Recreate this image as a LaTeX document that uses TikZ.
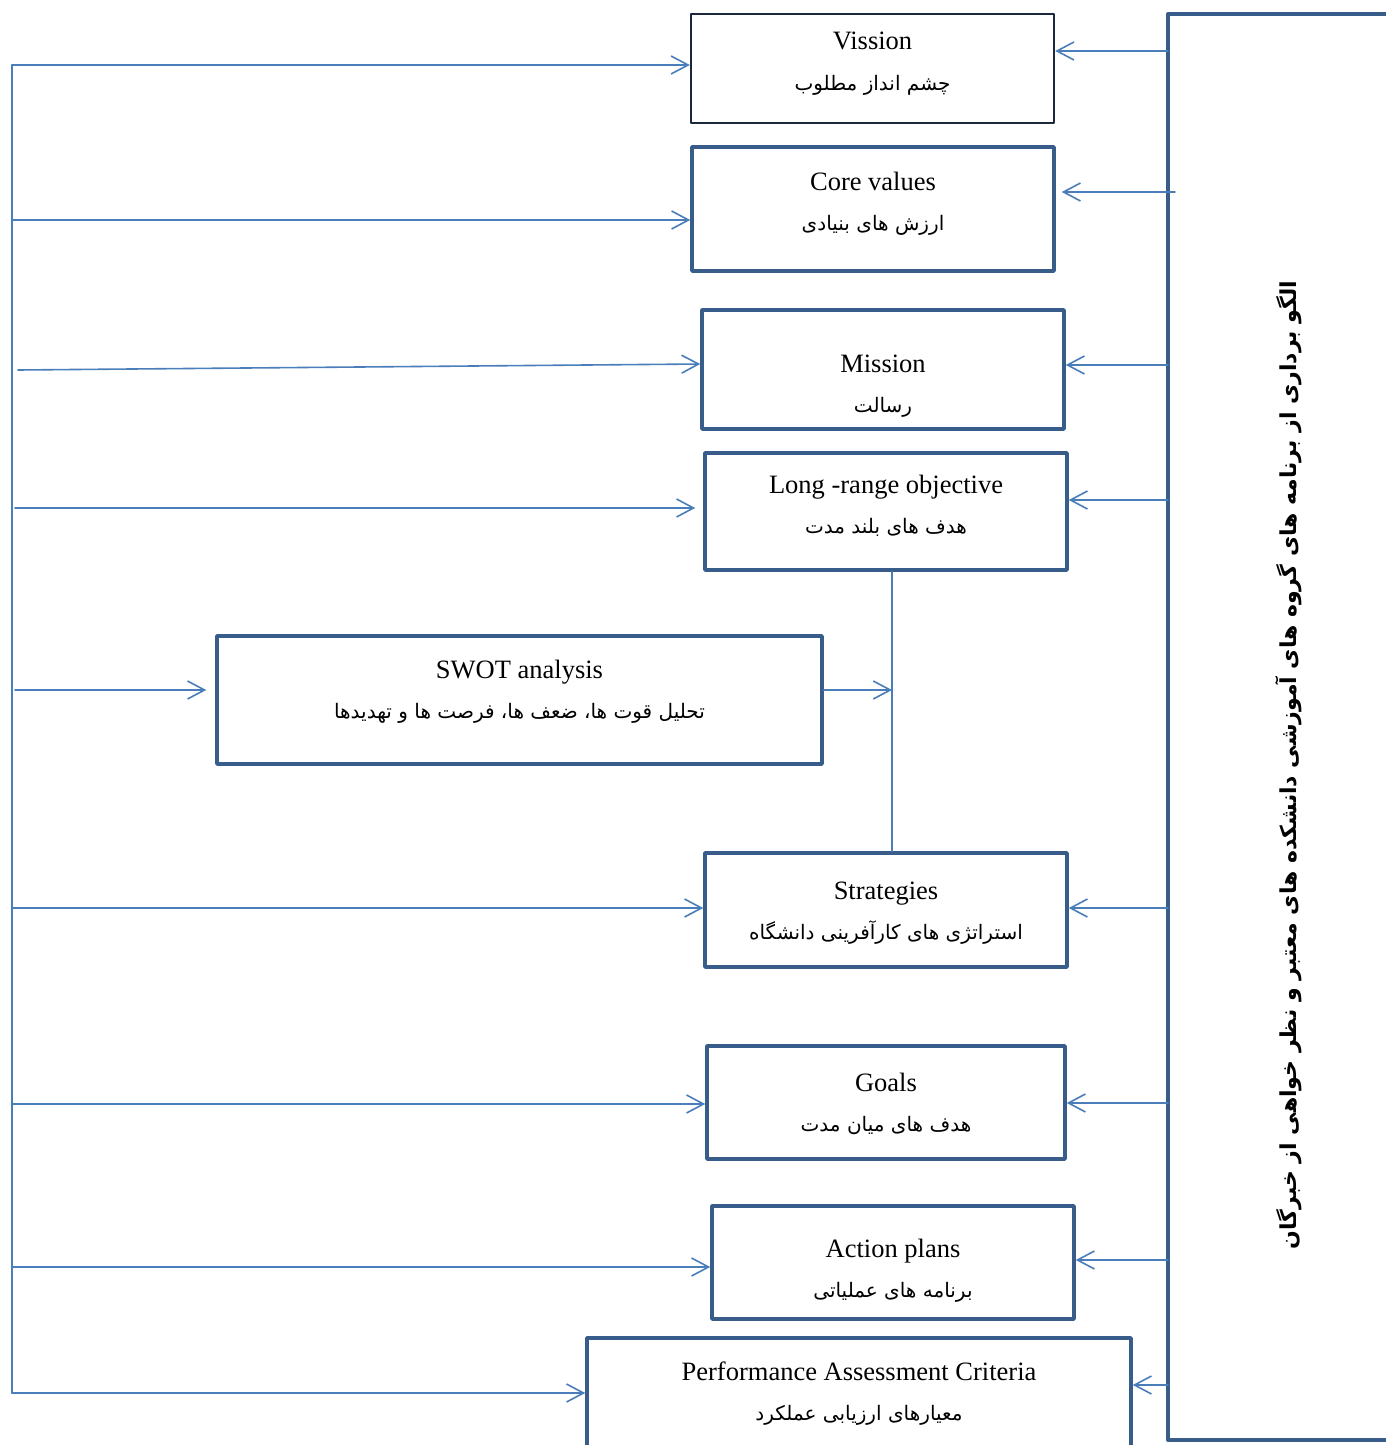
\documentclass[tikz,border=0pt]{standalone}
\usepackage{fontspec}
\setmainfont{Liberation Serif}
\newfontfamily\farsi[Script=Arabic]{DejaVu Sans}
\TeXXeTstate=1
\usetikzlibrary{arrows.meta}
\definecolor{linkblue}{RGB}{74,126,187}
\definecolor{boxblue}{RGB}{56,93,138}
\definecolor{navyline}{RGB}{30,40,60}
\newcommand{\fa}[1]{{\farsi\fontsize{20}{40}\selectfont #1}}
% two text lines; #1/#2 = strut height above / depth below (pt) to place them in the box
\newcommand{\stagelines}[4]{\rule{0pt}{#1pt}#3\\\rule[-#2pt]{0pt}{#2pt}\fa{#4}}
\tikzset{
  stage/.style={draw=boxblue, line width=3.5pt, fill=white, align=center, inner sep=0pt,
    font=\fontsize{26.5}{40}\selectfont},
  wire/.style={draw=linkblue, line width=1.6pt},
  link/.style={wire, -{Straight Barb[length=17pt,width=18pt,line width=1.6pt]}},
}
\begin{document}
\begin{tikzpicture}[x=1pt,y=-1pt, line cap=round, line join=round]
	\useasboundingbox (0,0) rectangle (1386,1445);
	\clip (0,0) rectangle (1386,1445);
	% stages
	\node[stage, draw=navyline, line width=2.5pt, minimum width=363pt, minimum height=109pt] (vission) at (872.5,68.5)
		{\stagelines{23}{20}{Vission}{\beginR چشم انداز مطلوب\endR}};
	\node[stage, minimum width=362pt, minimum height=124pt] (core) at (873,209)
		{\stagelines{22}{20}{Core values}{\beginR ارزش های بنیادی\endR}};
	\node[stage, minimum width=362pt, minimum height=119pt] (mission) at (883,369.5)
		{\stagelines{55}{10}{Mission}{\beginR رسالت\endR}};
	\node[stage, minimum width=362pt, minimum height=117pt] (longrange) at (886,511.5)
		{\stagelines{23}{20}{Long -range objective}{\beginR هدف های بلند مدت\endR}};
	\node[stage, minimum width=605pt, minimum height=128pt] (swot) at (519.5,700)
		{\stagelines{22}{26}{SWOT analysis}{\beginR تحلیل قوت ها، ضعف ها، فرصت ها و تهدیدها\endR}};
	\node[stage, minimum width=362pt, minimum height=114pt] (strategies) at (886,910)
		{\stagelines{38}{20}{Strategies}{\beginR استراتژی های کارآفرینی دانشگاه\endR}};
	\node[stage, minimum width=358pt, minimum height=113pt] (goals) at (886,1102.5)
		{\stagelines{37}{20}{Goals}{\beginR هدف های میان مدت\endR}};
	\node[stage, minimum width=362pt, minimum height=113pt] (actions) at (893,1262.5)
		{\stagelines{49}{20}{Action plans}{\beginR برنامه های عملیاتی\endR}};
	\node[stage, minimum width=544pt, minimum height=114pt] (pac) at (859,1395)
		{\stagelines{30}{20}{Performance Assessment Criteria}{\beginR معیارهای ارزیابی عملکرد\endR}};
	% benchmarking source
	\node[draw=boxblue, line width=4pt, minimum width=234pt, minimum height=1426pt] (expert) at (1285,727) {};
	\node[rotate=90, font=\farsi\bfseries\fontsize{22}{28}\selectfont] (experttext) at (1289,765)
		{\beginR الگو برداری از برنامه های گروه های آموزشی دانشکده های معتبر  و نظر خواهی از خبرگان\endR};
	% left feedback line
	\coordinate (ltop) at (12,65);
	\coordinate (lbot) at (12,1393);
	\draw[wire] (ltop) -- (lbot);
	\foreach \y/\n in {65/vission, 220/core, 908/strategies, 1104/goals, 1267/actions, 1393/pac}{
		\coordinate (in\n) at (12,\y);
		\draw[link] (in\n) -- (in\n -| \n.west);
	}
	\coordinate (inmission) at (18,370);
	\draw[link] (inmission) -- ([yshift=5.5pt]mission.west);
	\coordinate (inlongrange) at (15,508);
	\draw[link, shorten >=8pt] (inlongrange) -- (inlongrange -| longrange.west);
	\coordinate (inswot) at (15,690);
	\draw[link, shorten >=9pt] (inswot) -- (inswot -| swot.west);
	% right inputs
	\foreach \y/\n in {51/vission, 365/mission, 500/longrange, 908/strategies, 1103/goals, 1260/actions, 1385/pac}{
		\coordinate (out\n) at (1168,\y);
		\draw[link] (out\n) -- (out\n -| \n.east);
	}
	\coordinate (outcore) at (1175,192);
	\draw[link, shorten >=6pt] (outcore) -- (outcore -| core.east);
	% swot into the strategy line
	\coordinate (swotout) at ([yshift=10pt]swot.east);
	\coordinate (tee) at ([xshift=6pt]longrange.south |- swotout);
	\draw[wire] ([xshift=6pt]longrange.south) -- ([xshift=6pt]strategies.north);
	\draw[link] (swotout) -- (tee);
\end{tikzpicture}
\end{document}
